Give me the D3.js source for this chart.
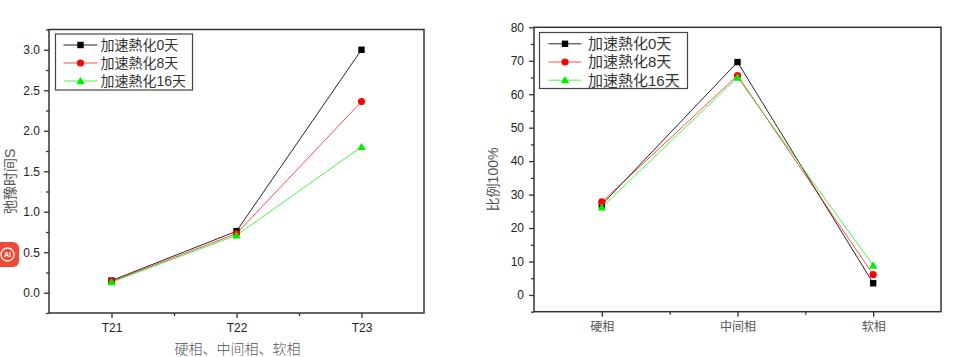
<!DOCTYPE html>
<html><head><meta charset="utf-8">
<script src="https://cdn.jsdelivr.net/npm/d3@7"></script>
<style>
html,body{margin:0;padding:0;background:#fff;}
svg{display:block;}
</style></head>
<body>
<svg id="c" width="961" height="357"></svg>
<script>
// ---------- data ----------
const seriesNames = ["加速熱化0天", "加速熱化8天", "加速熱化16天"];
const seriesColors = ["#000000", "#ff0000", "#00ee00"];
const seriesShapes = ["square", "circle", "triangle"];

// left chart: relaxation time
const leftCategories = ["T21", "T22", "T23"];
const leftDay0  = [0.15, 0.76, 3.00];
const leftDay8  = [0.14, 0.73, 2.36];
const leftDay16 = [0.13, 0.71, 1.80];
const leftYTicks = [0.0, 0.5, 1.0, 1.5, 2.0, 2.5, 3.0];
const leftYLabel = "弛豫时间S";
const leftXLabel = "硬相、中间相、软相";

// right chart: proportion
const rightCategories = ["硬相", "中间相", "软相"];
const rightDay0  = [27.0, 69.6, 3.5];
const rightDay8  = [27.8, 65.6, 6.1];
const rightDay16 = [26.2, 65.0, 8.8];
const rightYTicks = [0, 10, 20, 30, 40, 50, 60, 70, 80];
const rightYLabel = "比例100%";

const svg = d3.select("#c");
const axisColor = "#333";

function marker(g, shape, color, x, y) {
  if (shape === "square") {
    g.append("rect").attr("x", x - 3.2).attr("y", y - 3.2).attr("width", 6.4).attr("height", 6.4).attr("fill", color);
  } else if (shape === "circle") {
    g.append("circle").attr("cx", x).attr("cy", y).attr("r", 3.6).attr("fill", color);
  } else {
    const s = 4.2;
    g.append("path").attr("d", `M${x},${y - s}L${x + s},${y + s * 0.75}L${x - s},${y + s * 0.75}Z`).attr("fill", color);
  }
}

function drawChart(cfg) {
  const g = svg.append("g");
  const x = d3.scaleLinear().domain([0.5, 3.5]).range([cfg.x0, cfg.x1]);
  const y = d3.scaleLinear().domain(cfg.yDomain).range([cfg.y1, cfg.y0]);

  // frame
  g.append("rect").attr("x", cfg.x0).attr("y", cfg.y0)
    .attr("width", cfg.x1 - cfg.x0).attr("height", cfg.y1 - cfg.y0)
    .attr("fill", "none").attr("stroke", axisColor).attr("stroke-width", 1.5);

  // minor y ticks
  const minorY = d3.range(cfg.yDomain[0], cfg.yDomain[1] + 1e-9, cfg.minorStep)
    .filter(v => !cfg.yTicks.some(t => Math.abs(t - v) < 1e-9));
  g.append("g").attr("transform", `translate(${cfg.x0},0)`)
    .call(d3.axisLeft(y).tickValues(minorY).tickSize(3).tickFormat(""))
    .call(a => a.select(".domain").remove())
    .call(a => a.selectAll("line").attr("stroke", axisColor).attr("stroke-width", 1.3));
  // major y ticks
  g.append("g").attr("transform", `translate(${cfg.x0},0)`)
    .call(d3.axisLeft(y).tickValues(cfg.yTicks).tickSize(5).tickPadding(cfg.yPad).tickFormat(cfg.yFormat))
    .call(a => a.select(".domain").remove())
    .call(a => a.selectAll("line").attr("stroke", axisColor).attr("stroke-width", 1.3))
    .call(a => a.selectAll("text").attr("fill", "#222").attr("font-size", 12)
      .attr("font-family", "'Liberation Sans', Arial, sans-serif"));

  // x ticks
  g.append("g").attr("transform", `translate(0,${cfg.y1})`)
    .call(d3.axisBottom(x).tickValues([1.5, 2.5]).tickSize(3).tickFormat(""))
    .call(a => a.select(".domain").remove())
    .call(a => a.selectAll("line").attr("stroke", axisColor).attr("stroke-width", 1.3));
  g.append("g").attr("transform", `translate(0,${cfg.y1})`)
    .call(d3.axisBottom(x).tickValues([1, 2, 3]).tickSize(5).tickPadding(cfg.xPad)
      .tickFormat((d, i) => cfg.categories[i]))
    .call(a => a.select(".domain").remove())
    .call(a => a.selectAll("line").attr("stroke", axisColor).attr("stroke-width", 1.3))
    .call(a => a.selectAll("text").attr("fill", cfg.xTickColor).attr("font-size", 12)
      .attr("font-family", cfg.xTickFont));

  // series
  cfg.series.forEach((vals, si) => {
    const pts = vals.map((v, i) => [x(i + 1), y(v)]);
    g.append("path").attr("d", d3.line()(pts)).attr("fill", "none")
      .attr("stroke", seriesColors[si]).attr("stroke-width", 1).attr("stroke-opacity", si === 0 ? 0.85 : 0.7);
  });
  cfg.series.forEach((vals, si) => {
    vals.forEach((v, i) => marker(g, seriesShapes[si], seriesColors[si], x(i + 1), y(v)));
  });

  // legend
  const L = cfg.legend;
  g.append("rect").attr("x", L.x).attr("y", L.y).attr("width", L.w).attr("height", L.h)
    .attr("fill", "#fff").attr("stroke", "#444").attr("stroke-width", 1.2);
  seriesNames.forEach((name, si) => {
    const ry = L.y + L.row0 + si * L.rowH;
    g.append("line").attr("x1", L.x + L.lineX0).attr("x2", L.x + L.lineX1).attr("y1", ry).attr("y2", ry)
      .attr("stroke", seriesColors[si]).attr("stroke-width", 1).attr("stroke-opacity", si === 0 ? 0.85 : 0.7);
    marker(g, seriesShapes[si], seriesColors[si], L.x + (L.lineX0 + L.lineX1) / 2, ry);
    g.append("text").attr("x", L.x + L.textX).attr("y", ry).attr("dy", "0.36em")
      .attr("font-size", L.fs).attr("fill", "#333")
      .attr("font-family", "'Liberation Sans', 'Noto Sans CJK SC', sans-serif")
      .text(name);
  });

  // y label
  g.append("text").attr("transform", `translate(${cfg.yLabelX},${(cfg.y0 + cfg.y1) / 2 + 10}) rotate(-90)`)
    .attr("text-anchor", "middle").attr("dy", "0.35em")
    .attr("font-size", 14).attr("fill", "#555")
    .attr("font-family", "'Liberation Sans', 'Noto Sans CJK SC', sans-serif")
    .text(cfg.yLabel);

  if (cfg.xLabel) {
    g.append("text").attr("x", (cfg.x0 + cfg.x1) / 2 + 1).attr("y", 349).attr("dy", "0.35em")
      .attr("text-anchor", "middle").attr("font-size", 14).attr("fill", "#555")
      .attr("font-family", "'Noto Sans CJK SC', sans-serif").attr("font-weight", 300)
      .text(cfg.xLabel);
  }
}

drawChart({
  x0: 49, x1: 424, y0: 29.5, y1: 313,
  yDomain: [-0.25, 3.25], yTicks: leftYTicks, minorStep: 0.25, yPad: 4,
  yFormat: d3.format(".1f"),
  categories: leftCategories, xPad: 5, xTickColor: "#222",
  xTickFont: "'Liberation Sans', Arial, sans-serif",
  series: [leftDay0, leftDay8, leftDay16],
  legend: { x: 55.5, y: 34, w: 137, h: 56, row0: 11, rowH: 18, lineX0: 8, lineX1: 42, textX: 45, fs: 14 },
  yLabel: leftYLabel, yLabelX: 10.5, xLabel: leftXLabel
});

drawChart({
  x0: 534, x1: 941, y0: 27.3, y1: 311.7,
  yDomain: [-5, 80], yTicks: rightYTicks, minorStep: 5, yPad: 5,
  yFormat: d3.format("d"),
  categories: rightCategories, xPad: 6, xTickColor: "#555",
  xTickFont: "'Noto Sans CJK SC', sans-serif",
  series: [rightDay0, rightDay8, rightDay16],
  legend: { x: 539.5, y: 32.5, w: 148, h: 56, row0: 11.3, rowH: 18.2, lineX0: 9, lineX1: 42, textX: 48.5, fs: 15 },
  yLabel: rightYLabel, yLabelX: 493, xLabel: null
});

// small red "AI" badge at left edge (overlay in the reference)
const badge = svg.append("g");
badge.append("rect").attr("x", -8).attr("y", 242).attr("width", 27).attr("height", 25).attr("rx", 6).attr("fill", "#f04a36");
badge.append("circle").attr("cx", 7.5).attr("cy", 254.5).attr("r", 6.5).attr("fill", "none").attr("stroke", "#fff").attr("stroke-width", 1.3);
badge.append("text").attr("x", 7.5).attr("y", 254.5).attr("dy", "0.35em").attr("text-anchor", "middle")
  .attr("font-size", 7).attr("font-weight", "bold").attr("fill", "#fff")
  .attr("font-family", "'Liberation Sans', sans-serif").text("AI");
</script>
</body></html>
